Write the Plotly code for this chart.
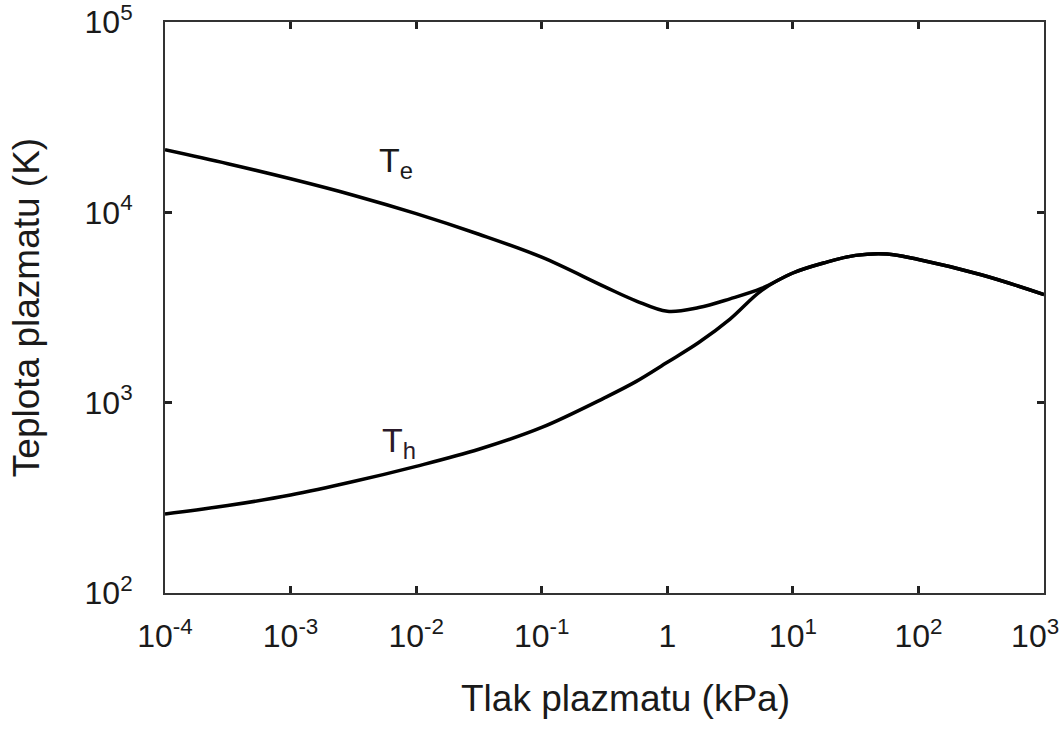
import plotly.graph_objects as go

# Pressure (kPa) and electron temperature (K)
pressure_kpa = [1e-4, 3.16e-4, 1e-3, 3.16e-3, 1e-2, 3.16e-2, 0.1, 0.316, 0.562, 1.0,
                1.78, 3.16, 5.62, 10.0, 17.8, 31.6, 56.2, 100.0, 316.0, 1000.0]
t_electron = [21300, 18000, 15000, 12300, 9840, 7670, 5810, 4070, 3430, 3020,
              3160, 3510, 3980, 4800, 5430, 5940, 6040, 5650, 4700, 3700]

# Pressure (kPa) and heavy-particle temperature (K)
pressure_heavy = [1e-4, 3.16e-4, 1e-3, 3.16e-3, 1e-2, 3.16e-2, 0.1, 0.316, 0.562, 1.0,
                  1.78, 3.16, 5.62, 10.0, 17.8, 31.6, 56.2, 100.0, 316.0, 1000.0]
t_heavy = [260, 288, 327, 385, 463, 569, 741, 1060, 1290, 1630,
           2070, 2750, 3880, 4800, 5430, 5940, 6040, 5650, 4700, 3700]

x_tick_vals = [1e-4, 1e-3, 1e-2, 1e-1, 1, 10, 100, 1000]
x_tick_text = ["10<sup>-4</sup>", "10<sup>-3</sup>", "10<sup>-2</sup>", "10<sup>-1</sup>",
               "1", "10<sup>1</sup>", "10<sup>2</sup>", "10<sup>3</sup>&nbsp;&nbsp;"]
y_tick_vals = [1e2, 1e3, 1e4, 1e5]
y_tick_text = ["10<sup>2</sup>", "10<sup>3</sup>", "10<sup>4</sup>", "10<sup>5</sup>"]

FONT = "Liberation Sans, Arial, sans-serif"
INK = "#1a1a1a"

fig = go.Figure()
fig.add_trace(go.Scatter(x=pressure_kpa, y=t_electron, mode="lines",
                         line=dict(color="black", width=3.5, shape="spline", smoothing=1.0),
                         showlegend=False))
fig.add_trace(go.Scatter(x=pressure_heavy, y=t_heavy, mode="lines",
                         line=dict(color="black", width=3.5, shape="spline", smoothing=1.0),
                         showlegend=False))

fig.add_annotation(x=-2.16, y=4.26, xref="x", yref="y", text="T<sub>e</sub>",
                   showarrow=False, font=dict(family=FONT, size=34, color=INK))
fig.add_annotation(x=-2.14, y=2.79, xref="x", yref="y", text="T<sub>h</sub>",
                   showarrow=False, font=dict(family=FONT, size=34, color="#2a1a2a"))

# x-axis title, placed slightly right of the plot centre
fig.add_annotation(x=0.524, y=-0.185, xref="paper", yref="paper", yanchor="middle",
                   text="Tlak plazmatu (kPa)", showarrow=False,
                   font=dict(family=FONT, size=37, color=INK))

axis_common = dict(type="log", showgrid=False, zeroline=False, showline=True,
                   linecolor="#333", linewidth=2, mirror="ticks", ticks="inside",
                   ticklen=7, tickwidth=2.5, tickcolor="#222",
                   ticklabeloverflow="allow", automargin=False,
                   tickfont=dict(family=FONT, size=32, color=INK))

fig.update_xaxes(range=[-4, 3], tickvals=x_tick_vals, ticktext=x_tick_text,
                 ticklabelstandoff=14, **axis_common)
fig.update_yaxes(range=[2, 5], tickvals=y_tick_vals, ticktext=y_tick_text,
                 ticklabelstandoff=24,
                 title=dict(text="Teplota plazmatu (K)", standoff=34,
                            font=dict(family=FONT, size=37, color=INK)),
                 **axis_common)

fig.update_layout(width=1064, height=742, plot_bgcolor="white", paper_bgcolor="white",
                  margin=dict(l=165, r=20, t=22, b=149))

fig.write_html("out.html")
